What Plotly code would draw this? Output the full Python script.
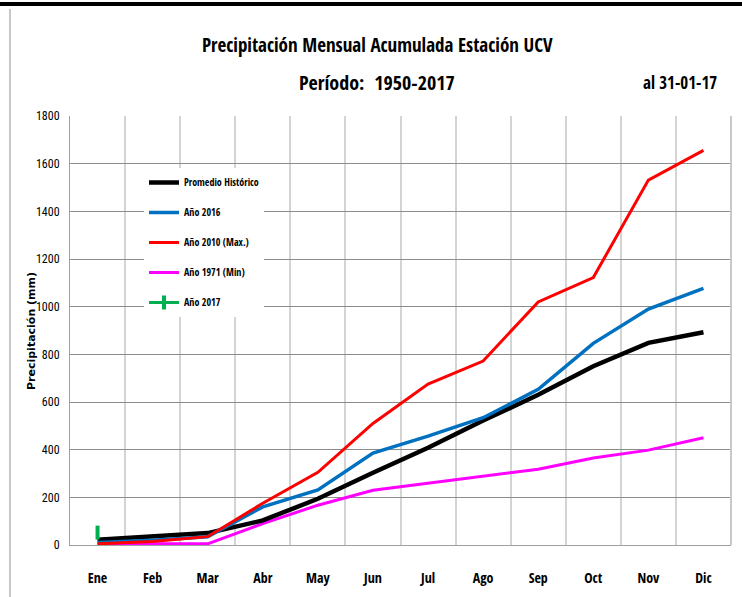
import plotly.graph_objects as go

months = ["Ene", "Feb", "Mar", "Abr", "May", "Jun", "Jul", "Ago", "Sep", "Oct", "Nov", "Dic"]
promedio = [22, 35, 50, 103, 194, 303, 408, 522, 630, 750, 848, 893]
anio_2016 = [10, 20, 35, 160, 231, 386, 457, 534, 653, 846, 990, 1077]
anio_2010 = [5, 15, 35, 175, 305, 510, 675, 772, 1020, 1122, 1531, 1656]
anio_1971 = [5, 5, 5, 90, 167, 230, 260, 290, 318, 365, 398, 450]
anio_2017 = [52]

FN = "Open Sans Condensed, Roboto Condensed, sans-serif"
FN_REG = "Roboto Condensed, Open Sans Condensed, sans-serif"

W, H = 742, 597
L, R, T, B = 70, 11, 116, 52
PW, PH = W - L - R, H - T - B


def px(x):
    return (x - L) / PW


def py(y):
    return (H - B - y) / PH


fig = go.Figure()
series = [
    ("Promedio Histórico", promedio, "#000000", 4.5),
    ("Año 2016", anio_2016, "#0070C0", 3.5),
    ("Año 2010 (Max.)", anio_2010, "#FF0000", 3),
    ("Año 1971 (Min)", anio_1971, "#FF00FF", 3),
]
# draw order: magenta, black, blue, red
for idx in [3, 0, 1, 2]:
    name, vals, col, w = series[idx]
    fig.add_trace(go.Scatter(
        x=months[:len(vals)], y=vals, mode="lines", name=name,
        line=dict(color=col, width=w), legendrank=idx + 1,
        legendgroup=name,
    ))
fig.add_trace(go.Scatter(
    x=months[:len(anio_2017)], y=anio_2017, mode="lines+markers", name="Año 2017",
    line=dict(color="#00B050", width=3),
    marker=dict(symbol="line-ns", size=10, line=dict(color="#00B050", width=4)),
    legendrank=5, legendgroup="Año 2017",
))

fig.update_layout(
    width=W, height=H,
    margin=dict(l=L, r=R, t=T, b=B, autoexpand=False),
    paper_bgcolor="white", plot_bgcolor="white",
    showlegend=True,
    legend=dict(
        x=px(144), y=py(168), xanchor="left", yanchor="top",
        bgcolor="white", font=dict(family=FN, size=10, color="black", weight="bold"),
        traceorder="grouped", tracegroupgap=11, itemwidth=30,
    ),
    xaxis=dict(
        type="category", categoryorder="array", categoryarray=months,
        tickson="boundaries", showgrid=True, gridcolor="#d4d4d4", gridwidth=2,
        showline=True, linecolor="#a0a0a0", linewidth=1, mirror=False,
        ticks="", ticklabelstandoff=20,
        tickfont=dict(family=FN, size=14, color="black", weight="bold"),
        range=[-0.5, 11.5], zeroline=False, automargin=False,
    ),
    yaxis=dict(
        range=[0, 1800], dtick=200, showgrid=True, gridcolor="#8c8c8c", gridwidth=1,
        showline=True, linecolor="#a0a0a0", linewidth=1,
        ticks="outside", ticklen=7, tickcolor="rgba(0,0,0,0)",
        tickfont=dict(family=FN_REG, size=12, color="black"),
        zeroline=False, automargin=False,
    ),
    annotations=[
        dict(text="Precipitación Mensual Acumulada Estación UCV", x=px(377), y=py(45),
             xref="paper", yref="paper", showarrow=False, xanchor="center", yanchor="middle",
             font=dict(family=FN, size=19, color="black", weight="bold")),
        dict(text="Período:  1950-2017", x=px(377), y=py(82),
             xref="paper", yref="paper", showarrow=False, xanchor="center", yanchor="middle",
             font=dict(family=FN, size=20, color="black", weight="bold")),
        dict(text="al 31-01-17", x=px(680), y=py(82),
             xref="paper", yref="paper", showarrow=False, xanchor="center", yanchor="middle",
             font=dict(family=FN, size=17, color="black", weight="bold")),
        dict(text="Precipitación (mm)", x=px(31), y=py(331), textangle=-90,
             xref="paper", yref="paper", showarrow=False, xanchor="center", yanchor="middle",
             font=dict(family="DejaVu Sans, Verdana, sans-serif", size=11, color="black", weight="bold")),
    ],
    shapes=[
        dict(type="line", xref="paper", yref="paper", x0=px(0), x1=px(W),
             y0=py(4), y1=py(4), line=dict(color="black", width=4)),
        dict(type="line", xref="paper", yref="paper", x0=px(10), x1=px(10),
             y0=py(9), y1=py(H + 5), line=dict(color="#c8c8c8", width=2)),
        dict(type="line", xref="paper", yref="paper", x0=1, x1=1, y0=0, y1=1,
             line=dict(color="#c8c8c8", width=2)),
    ],
)

fig.write_html("out.html", config={"displayModeBar": False},
               post_script="document.body.style.margin='0';")
